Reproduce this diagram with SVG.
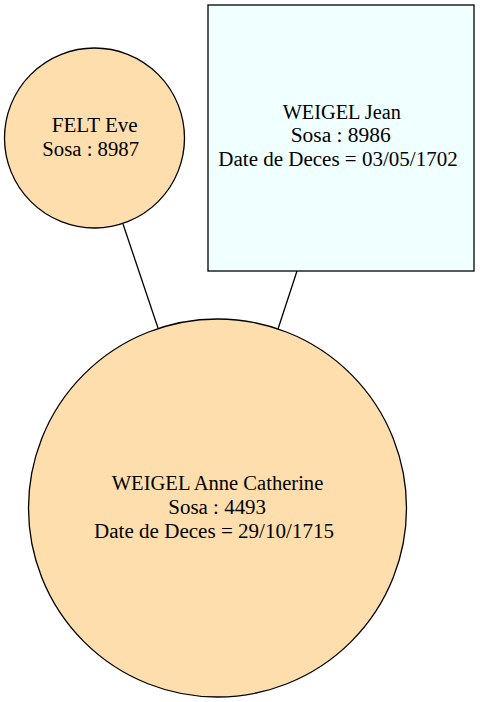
<svg xmlns="http://www.w3.org/2000/svg" width="480" height="702" viewBox="0 0 480 702">
<style>
text{font-family:"Liberation Serif","Times New Roman",serif;font-size:20px;fill:#000;text-anchor:middle}
.p{fill:#ffdead;stroke:#000;stroke-width:1.3}
.r{fill:#f0ffff;stroke:#000;stroke-width:1.3}
.e{stroke:#000;stroke-width:1.3;fill:none}
</style>
<rect width="480" height="702" fill="#fff"/>
<g id="edges">
<line class="e" x1="123" y1="224" x2="158" y2="328"/>
<line class="e" x1="297" y1="271" x2="278" y2="329"/>
</g>
<g id="felt_eve">
<circle class="p" cx="94.5" cy="138" r="90"/>
<text x="94.7" y="132" textLength="86" lengthAdjust="spacingAndGlyphs">FELT Eve</text>
<text x="90.7" y="156" textLength="96.7" lengthAdjust="spacingAndGlyphs">Sosa : 8987</text>
</g>
<g id="weigel_jean">
<rect class="r" x="208" y="5" width="266" height="266"/>
<text x="341.8" y="119" textLength="118.3" lengthAdjust="spacingAndGlyphs">WEIGEL Jean</text>
<text x="340.7" y="142" textLength="100" lengthAdjust="spacingAndGlyphs">Sosa : 8986</text>
<text x="338" y="166" textLength="239.4" lengthAdjust="spacingAndGlyphs">Date de Deces = 03/05/1702</text>
</g>
<g id="weigel_anne">
<circle class="p" cx="217.5" cy="508" r="189"/>
<text x="217.5" y="490" textLength="211.6" lengthAdjust="spacingAndGlyphs">WEIGEL Anne Catherine</text>
<text x="217.2" y="513.5" textLength="97.7" lengthAdjust="spacingAndGlyphs">Sosa : 4493</text>
<text x="214" y="537.5" textLength="240" lengthAdjust="spacingAndGlyphs">Date de Deces = 29/10/1715</text>
</g>
</svg>
